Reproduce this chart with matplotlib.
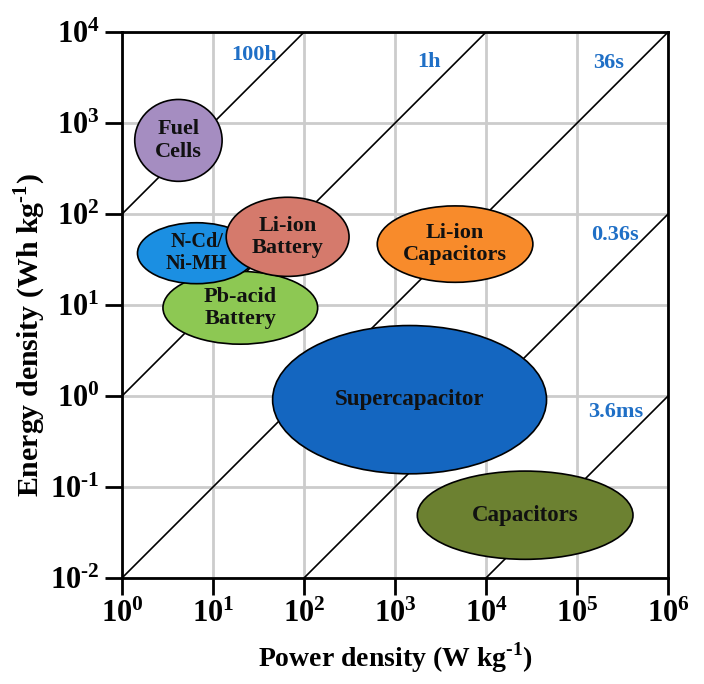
import numpy as np
import matplotlib.pyplot as plt
from matplotlib.patches import Ellipse
from matplotlib.ticker import LogLocator, FuncFormatter

plt.rcParams['font.family'] = ['Liberation Serif', 'DejaVu Serif']
plt.rcParams['font.weight'] = 'bold'
plt.rcParams['mathtext.fontset'] = 'custom'
plt.rcParams['mathtext.rm'] = 'Liberation Serif:bold'
plt.rcParams['mathtext.bf'] = 'Liberation Serif:bold'

# device regions: centre and size in decades (log10 of W/kg, log10 of Wh/kg)
names = ['Pb-acid\nBattery', 'N-Cd/\nNi-MH', 'Li-ion\nBattery', 'Fuel\nCells',
         'Li-ion\nCapacitors', 'Supercapacitor', 'Capacitors']
log_p = [1.30, 0.82, 1.82, 0.62, 3.66, 3.16, 4.43]
log_e = [0.97, 1.57, 1.75, 2.81, 1.67, -0.04, -1.31]
width_dec = [1.70, 1.30, 1.35, 0.96, 1.71, 3.01, 2.37]
height_dec = [0.80, 0.67, 0.87, 0.90, 0.84, 1.63, 0.97]
colors = ['#8dc853', '#1b8fe2', '#d57a6c', '#a58dc1', '#f88b2b', '#1466c0', '#6c8131']
label_size = [16, 14.5, 16, 16, 16, 16.5, 16.5]

# discharge time lines E/P (h) and their labels
times_h = [100, 1, 0.01, 1e-4, 1e-6]
time_labels = ['100h', '1h', '36s', '0.36s', '3.6ms']
label_pos = [(10**1.45, 10**3.75), (10**3.37, 10**3.67), (10**5.35, 10**3.66),
             (10**5.42, 10**1.77), (10**5.42, 10**-0.18)]

fig = plt.figure(figsize=(7.04, 6.84), dpi=100)
ax = fig.add_axes([0.1733, 0.155, 0.7756, 0.798])
ax.set_xscale('log')
ax.set_yscale('log')
ax.set_xlim(1, 1e6)
ax.set_ylim(1e-2, 1e4)

ax.grid(True, which='major', color='#cccccc', linewidth=2)
ax.set_axisbelow(True)

P = np.logspace(0, 6, 200)
for t in times_h:
    ax.plot(P, P * t, color='black', linewidth=1.2, zorder=2)

for (x, y), lab in zip(label_pos, time_labels):
    ax.text(x, y, lab, color='#1f6fc6', fontsize=16, fontweight='bold',
            ha='center', va='center', zorder=3)

# ellipses are drawn in axes-fraction coordinates so they stay elliptic on log axes
for i in range(len(names)):
    cx = log_p[i] / 6
    cy = (log_e[i] + 2) / 6
    e = Ellipse((cx, cy), width_dec[i] / 6, height_dec[i] / 6, transform=ax.transAxes,
                facecolor=colors[i], edgecolor='black', linewidth=1.2, zorder=4 + i)
    ax.add_patch(e)
    ax.text(cx, cy, names[i], transform=ax.transAxes, ha='center', va='center',
            fontsize=label_size[i], fontweight='bold', color='#111111',
            linespacing=1.15, zorder=20)


def dec_label(v, pos):
    n = int(round(np.log10(v)))
    if n < 0:
        return r'$\mathbf{10^{\text{-}%d}}$' % (-n)
    return r'$\mathbf{10^{%d}}$' % n


fmt = FuncFormatter(dec_label)
ax.xaxis.set_major_locator(LogLocator(base=10, numticks=10))
ax.yaxis.set_major_locator(LogLocator(base=10, numticks=10))
ax.xaxis.set_minor_locator(plt.NullLocator())
ax.yaxis.set_minor_locator(plt.NullLocator())
ax.xaxis.set_major_formatter(fmt)
ax.yaxis.set_major_formatter(fmt)
ax.tick_params(axis='both', which='major', direction='out', length=12, width=2,
               labelsize=22, pad=4)
for s in ax.spines.values():
    s.set_linewidth(2)

ax.set_xlabel(r'Power density (W kg$^{\text{-}\mathbf{1}}$)', fontsize=20, fontweight='bold', labelpad=8)
ax.set_ylabel(r'Energy density (Wh kg$^{\text{-}\mathbf{1}}$)', fontsize=21.5, fontweight='bold')
ax.yaxis.set_label_coords(-0.136, 0.445)

fig.savefig('out.png', dpi=100)
